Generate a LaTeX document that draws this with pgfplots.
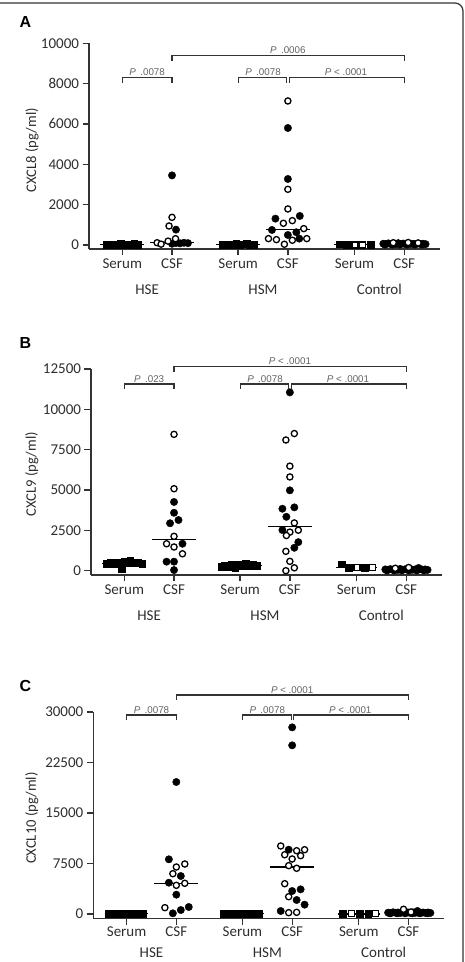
\documentclass[border=0pt]{standalone}
\usepackage{fontspec}
\setmainfont{Carlito}
\newfontfamily\arialfont{Liberation Sans}
\usepackage{pgfplots}
\pgfplotsset{compat=1.18}

\definecolor{axiscol}{HTML}{333333}
\definecolor{labelcol}{HTML}{2E2E2E}
\definecolor{pcol}{HTML}{626262}

\tikzset{
  brk/.style={draw=axiscol, line width=1.1pt},
  plab/.style={font=\arialfont\fontsize{9.8}{11}\selectfont, text=pcol, anchor=south, inner sep=1.5pt},
  grp/.style={font=\fontsize{15}{17}\selectfont, text=labelcol, anchor=base, inner sep=1pt},
  letter/.style={font=\arialfont\bfseries\fontsize{16}{18}\selectfont, text=black, anchor=west},
}

\pgfplotsset{
  panel/.style={
    scale only axis, width=351pt,
    xmin=-0.67, xmax=6.39,
    axis x line=bottom, axis y line=left,
    axis line style={-, draw=axiscol, line width=1.4pt},
    xtick={0,1,2.33,3.33,4.67,5.67},
    xticklabels={Serum,CSF,Serum,CSF,Serum,CSF},
    tick align=outside, major tick length=6.5pt,
    tick style={draw=axiscol, line width=1.3pt},
    tick label style={font=\fontsize{15}{17}\selectfont, text=labelcol},
    label style={font=\fontsize{14.6}{16}\selectfont, text=labelcol},
    /pgf/number format/assume math mode=true,
    /pgf/number format/1000 sep={},
    scaled y ticks=false,
    clip=false,
  },
  fc/.style={only marks, mark=*, mark size=3.7pt, mark options={fill=black, draw=black, line width=0.4pt}},
  oc/.style={only marks, mark=*, mark size=3.1pt, mark options={fill=white, draw=black, line width=1.3pt}},
  fs/.style={only marks, mark=square*, mark size=3.4pt, mark options={fill=black, draw=black, line width=0.4pt}},
  os/.style={only marks, mark=square*, mark size=3.0pt, mark options={fill=white, draw=black, line width=1.1pt}},
  med/.style={black, line width=1.3pt},
}

\begin{document}
\begin{tikzpicture}[x=1pt, y=1pt]
\path[use as bounding box] (0,0) rectangle (465,962);
% figure frame (top and right edges)
\draw[black!80, line width=1.2pt] (0,959) -- (455,959) arc[start angle=90, end angle=0, radius=8] -- (463,0);

\node[letter] at (16,940) {A};
\node[letter] at (16,619) {B};
\node[letter] at (16,276) {C};

% ---------------- A: CXCL8 ----------------
\begin{axis}[panel, at={(89pt,713pt)}, anchor=south west,
  height=205.7pt, ymin=-200, ymax=10000,
  ytick={0,2000,4000,6000,8000,10000},
  ylabel={CXCL8 (pg/ml)},
  ylabel style={at={(axis description cs:-0.162,0.48)}, anchor=center}]
% medians
\addplot[med] coordinates {(-0.44,25) (0.44,25)};
\addplot[med] coordinates {(0.56,120) (1.44,120)};
\addplot[med] coordinates {(1.89,25) (2.77,25)};
\addplot[med] coordinates {(2.89,780) (3.77,780)};
\addplot[med] coordinates {(4.25,20) (5.09,20)};
\addplot[med] coordinates {(5.23,50) (6.11,50)};
% HSE serum
\addplot[fs] coordinates {(-0.32,30) (-0.25,10) (-0.18,40) (-0.11,20) (-0.04,50) (0.03,10) (0.10,40) (0.17,20) (0.24,60) (0.31,30)};
% HSE CSF
\addplot[fc] coordinates {(1,3450) (1.08,760) (1.0,60) (1.08,100) (1.16,80) (1.24,110) (1.32,90)};
\addplot[oc] coordinates {(1,1370) (0.94,940) (1.07,310) (0.70,110) (0.78,40) (0.92,190)};
% HSM serum
\addplot[fs] coordinates {(2.01,30) (2.08,10) (2.15,40) (2.22,20) (2.29,50) (2.36,10) (2.43,40) (2.50,70) (2.57,30) (2.64,20)};
% HSM CSF
\addplot[fc] coordinates {(3.33,5800) (3.33,3272) (3.08,1305) (3.57,1438) (3.01,744) (3.50,630) (3.33,496) (3.56,314)};
\addplot[oc] coordinates {(3.33,7140) (3.24,1075) (3.42,1206) (3.33,2760) (3.33,1785) (3.65,810) (2.94,314) (3.10,264) (3.42,233) (3.71,314) (3.26,35)};
% Control serum
\addplot[fs] coordinates {(4.37,35) (4.52,15) (5.00,20)};
\addplot[os] coordinates {(4.68,0) (4.84,0)};
% Control CSF
\addplot[fc] coordinates {(5.25,60) (5.30,40) (5.35,80) (5.40,50) (5.45,70) (5.50,40) (5.55,90) (5.60,50) (5.65,70) (5.70,40) (5.75,80) (5.80,50) (5.85,60) (5.90,40) (5.95,70) (6.00,50) (6.05,60) (6.10,40) (5.28,20) (5.43,20) (5.58,20) (5.73,20) (5.88,20) (6.03,20)};
\addplot[oc] coordinates {(5.45,110) (5.75,120) (5.95,100)};
% comparisons
\draw[brk] (axis cs:0,8047) -- (axis cs:0,8295) -- (axis cs:1,8295) -- (axis cs:1,8047);
\draw[brk] (axis cs:2.33,8047) -- (axis cs:2.33,8295) -- (axis cs:3.31,8295) -- (axis cs:3.31,8047);
\draw[brk] (axis cs:3.36,8047) -- (axis cs:3.36,8295) -- (axis cs:5.67,8295) -- (axis cs:5.67,8047);
\draw[brk] (axis cs:1,9137) -- (axis cs:1,9385) -- (axis cs:5.67,9385) -- (axis cs:5.67,9137);
\node[plab] at (axis cs:0.5,8295) {\textit{P}\, .0078};
\node[plab] at (axis cs:2.83,8295) {\textit{P}\, .0078};
\node[plab] at (axis cs:4.5,8295) {\textit{P} < .0001};
\node[plab] at (axis cs:3.33,9385) {\textit{P}\, .0006};
% groups
\node[grp] at (axis cs:0.5,-200) [yshift=-45.5pt] {HSE};
\node[grp] at (axis cs:2.83,-200) [yshift=-45.5pt] {HSM};
\node[grp] at (axis cs:5.17,-200) [yshift=-45.5pt] {Control};
\end{axis}

% ---------------- B: CXCL9 ----------------
\begin{axis}[panel, at={(91pt,387pt)}, anchor=south west,
  height=206pt, ymin=-266, ymax=12500,
  ytick={0,2500,5000,7500,10000,12500},
  ylabel={CXCL9 (pg/ml)},
  ylabel style={at={(axis description cs:-0.169,0.49)}, anchor=center}]
\addplot[med] coordinates {(-0.44,456) (0.44,456)};
\addplot[med] coordinates {(0.56,1920) (1.44,1920)};
\addplot[med] coordinates {(1.89,320) (2.77,320)};
\addplot[med] coordinates {(2.89,2750) (3.77,2750)};
\addplot[med] coordinates {(4.25,211) (5.09,211)};
\addplot[med] coordinates {(5.23,80) (6.11,80)};
% HSE serum
\addplot[fs] coordinates {(-0.36,450) (-0.28,480) (-0.20,430) (-0.12,520) (-0.05,110) (0.0,560) (0.06,470) (0.12,600) (0.20,480) (0.28,520) (0.36,450)};
% HSE CSF
\addplot[fc] coordinates {(1,4260) (1,3590) (1.09,3140) (0.92,2940) (1.17,1670) (0.85,560) (1.0,560) (1.0,40)};
\addplot[oc] coordinates {(1,8450) (1,5080) (1,2130) (0.85,1670) (1,1470) (1.17,1050)};
% HSM serum
\addplot[fs] coordinates {(1.95,250) (2.02,300) (2.09,220) (2.16,350) (2.23,150) (2.30,400) (2.37,280) (2.44,450) (2.51,320) (2.58,380) (2.66,300)};
% HSM CSF
\addplot[fc] coordinates {(3.33,11050) (3.33,4980) (3.18,3840) (3.42,3925) (3.26,3340) (3.18,2520) (3.50,1770) (3.42,1420)};
\addplot[oc] coordinates {(3.42,8500) (3.25,8100) (3.33,6480) (3.33,5810) (3.42,2960) (3.33,2390) (3.50,2510) (3.26,2180) (3.25,1200) (3.33,580) (3.42,180) (3.25,0)};
% Control serum
\addplot[fs] coordinates {(4.37,400) (4.52,200) (4.84,190)};
\addplot[os] coordinates {(4.68,190) (5.00,210)};
% Control CSF
\addplot[fc] coordinates {(5.25,80) (5.30,50) (5.35,100) (5.40,60) (5.45,90) (5.50,50) (5.55,110) (5.60,60) (5.65,90) (5.70,50) (5.75,100) (5.80,60) (5.85,80) (5.90,50) (5.95,90) (6.00,60) (6.05,80) (6.10,50) (5.28,20) (5.43,20) (5.58,20) (5.73,20) (5.88,20) (6.03,20)};
\addplot[oc] coordinates {(5.72,200) (5.45,150)};
\addplot[fc] coordinates {(5.92,170)};
% comparisons
\draw[brk] (axis cs:0,11260) -- (axis cs:0,11570) -- (axis cs:1,11570) -- (axis cs:1,11260);
\draw[brk] (axis cs:2.33,11260) -- (axis cs:2.33,11570) -- (axis cs:3.31,11570) -- (axis cs:3.31,11260);
\draw[brk] (axis cs:3.36,11260) -- (axis cs:3.36,11570) -- (axis cs:5.67,11570) -- (axis cs:5.67,11260);
\draw[brk] (axis cs:1,12330) -- (axis cs:1,12640) -- (axis cs:5.67,12640) -- (axis cs:5.67,12330);
\node[plab] at (axis cs:0.5,11570) {\textit{P}\, .023};
\node[plab] at (axis cs:2.83,11570) {\textit{P}\, .0078};
\node[plab] at (axis cs:4.5,11570) {\textit{P} < .0001};
\node[plab] at (axis cs:3.33,12640) {\textit{P} < .0001};
\node[grp] at (axis cs:0.5,-266) [yshift=-45.5pt] {HSE};
\node[grp] at (axis cs:2.83,-266) [yshift=-45.5pt] {HSM};
\node[grp] at (axis cs:5.17,-266) [yshift=-45.5pt] {Control};
\end{axis}

% ---------------- C: CXCL10 ----------------
\begin{axis}[panel, at={(93.3pt,43.3pt)}, anchor=south west,
  height=206.7pt, ymin=-698, ymax=30000,
  ytick={0,7500,15000,22500,30000},
  ylabel={CXCL10 (pg/ml)},
  ylabel style={at={(axis description cs:-0.175,0.487)}, anchor=center},
  xticklabel style={yshift=1.5pt}]
\addplot[med] coordinates {(-0.44,40) (0.44,40)};
\addplot[med] coordinates {(0.56,4580) (1.44,4580)};
\addplot[med] coordinates {(1.89,30) (2.77,30)};
\addplot[med] coordinates {(2.89,6990) (3.77,6990)};
\addplot[med] coordinates {(4.25,20) (5.09,20)};
\addplot[med] coordinates {(5.23,150) (6.11,150)};
% HSE serum
\addplot[fs] coordinates {(-0.36,30) (-0.29,60) (-0.22,20) (-0.15,80) (-0.08,40) (-0.01,70) (0.06,30) (0.13,90) (0.20,50) (0.27,60) (0.33,30)};
% HSE CSF
\addplot[fc] coordinates {(1,19600) (0.85,8120) (1.09,5640) (0.85,4650) (1,2870) (0.93,100) (1.09,590) (1.25,1040)};
\addplot[oc] coordinates {(1.17,7425) (1,6980) (0.93,5985) (1,4260) (1.17,4560) (0.77,940)};
% HSM serum
\addplot[fs] coordinates {(1.95,30) (2.02,60) (2.09,20) (2.16,80) (2.23,40) (2.30,70) (2.37,30) (2.44,90) (2.51,50) (2.58,60) (2.66,30)};
% HSM CSF
\addplot[fc] coordinates {(3.33,27720) (3.33,25050) (3.26,9550) (3.33,3415) (3.50,3660) (3.42,2080) (3.58,1390) (3.10,445)};
\addplot[oc] coordinates {(3.10,10100) (3.42,9400) (3.58,9550) (3.18,8800) (3.50,8660) (3.33,8170) (3.26,7180) (3.42,6790) (3.18,4500) (3.26,2570) (3.26,200) (3.42,250)};
% Control serum
\addplot[fs] coordinates {(4.35,40) (4.69,40) (4.86,40)};
\addplot[os] coordinates {(4.52,40) (5.01,40)};
% Control CSF
\addplot[fc] coordinates {(5.26,200) (5.31,150) (5.36,250) (5.41,180) (5.46,220) (5.51,160) (5.56,260) (5.61,170) (5.66,230) (5.71,150) (5.76,240) (5.81,180) (5.86,210) (5.91,160) (5.96,220) (6.01,170) (6.06,230) (6.11,160) (5.30,100) (5.45,100) (5.60,100) (5.75,100) (5.90,100) (6.05,100) (5.85,450)};
\addplot[oc] coordinates {(5.57,700) (5.72,300)};
% comparisons
\draw[brk] (axis cs:0,28810) -- (axis cs:0,29550) -- (axis cs:1,29550) -- (axis cs:1,28810);
\draw[brk] (axis cs:2.33,28810) -- (axis cs:2.33,29550) -- (axis cs:3.31,29550) -- (axis cs:3.31,28810);
\draw[brk] (axis cs:3.36,28810) -- (axis cs:3.36,29550) -- (axis cs:5.67,29550) -- (axis cs:5.67,28810);
\draw[brk] (axis cs:1,31780) -- (axis cs:1,32520) -- (axis cs:5.67,32520) -- (axis cs:5.67,31780);
\node[plab] at (axis cs:0.5,29550) {\textit{P}\, .0078};
\node[plab] at (axis cs:2.83,29550) {\textit{P}\, .0078};
\node[plab] at (axis cs:4.5,29550) {\textit{P} < .0001};
\node[plab] at (axis cs:3.33,32520) {\textit{P} < .0001};
\node[grp] at (axis cs:0.5,-698) [yshift=-39pt] {HSE};
\node[grp] at (axis cs:2.83,-698) [yshift=-39pt] {HSM};
\node[grp] at (axis cs:5.17,-698) [yshift=-39pt] {Control};
\end{axis}
\end{tikzpicture}
\end{document}
